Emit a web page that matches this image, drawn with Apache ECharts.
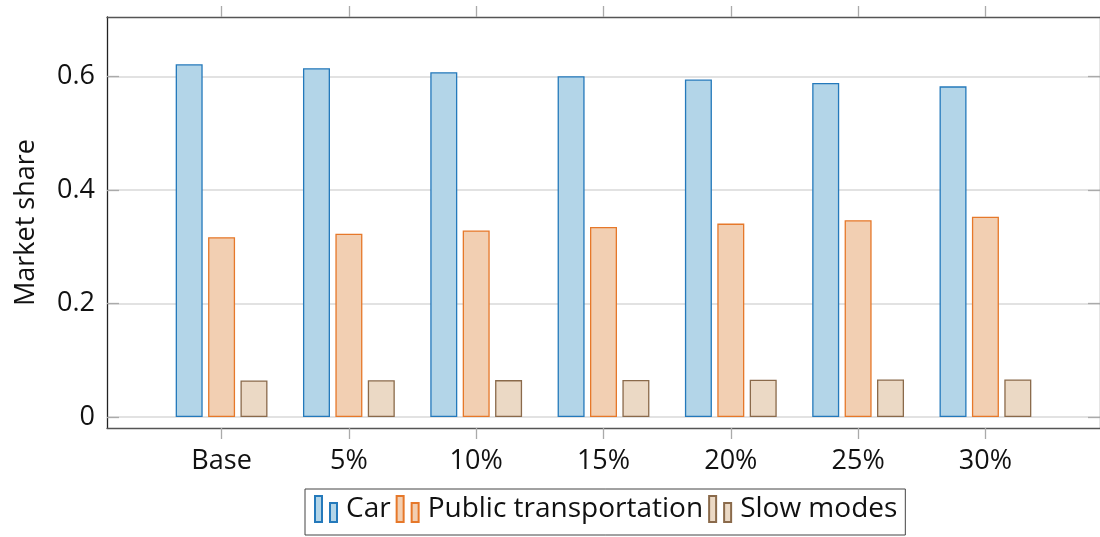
<!DOCTYPE html>
<html>
<head>
<meta charset="utf-8">
<script src="https://cdn.jsdelivr.net/npm/echarts@6/dist/echarts.min.js"></script>
<style>
  html, body { margin: 0; padding: 0; background: #fff; }
  #main { width: 1100px; height: 537px; }
</style>
</head>
<body>
<div id="main"></div>
<script>
var categories = ['Base', '5%', '10%', '15%', '20%', '25%', '30%'];
var carShare = [0.622, 0.615, 0.608, 0.601, 0.595, 0.589, 0.583];
var ptShare = [0.317, 0.323, 0.329, 0.335, 0.341, 0.347, 0.353];
var slowShare = [0.0645, 0.0648, 0.0651, 0.0654, 0.0657, 0.0660, 0.0663];
var yTicks = [0, 0.2, 0.4, 0.6];
var xTicks = [0, 1, 2, 3, 4, 5, 6];

var chart = echarts.init(document.getElementById('main'), null, { renderer: 'canvas' });

var font = 'Open Sans';

function pairs(arr) {
  return arr.map(function (v, i) { return [i, v]; });
}

var legendIcon = 'path://M0,0H7V26H0Z M15,7H22V26H15Z';

var option = {
  animation: false,
  textStyle: { fontFamily: font },
  grid: {
    left: 107,
    right: -1,
    top: 17,
    bottom: 109,
    containLabel: false
  },
  legend: {
    left: 305,
    top: 489,
    orient: 'horizontal',
    icon: legendIcon,
    itemWidth: 22,
    itemHeight: 26,
    itemGap: 5,
    padding: [6, 8, 12, 9],
    borderColor: '#444',
    borderWidth: 1,
    textStyle: { fontSize: 28, color: '#111', fontFamily: font, padding: [6, 0, 0, 4] },
    data: ['Car', 'Public transportation', 'Slow modes']
  },
  xAxis: [
    {
      type: 'value',
      position: 'bottom',
      min: -0.9,
      max: 6.9,
      axisLine: { show: true, onZero: false, lineStyle: { color: '#555', width: 1.3 } },
      axisTick: {
        show: true, inside: false, length: 11,
        customValues: xTicks,
        lineStyle: { color: '#aaa', width: 1.3 }
      },
      axisLabel: {
        customValues: xTicks,
        margin: 20,
        fontSize: 27,
        color: '#111',
        fontFamily: font,
        formatter: function (v) { return categories[Math.round(v)]; }
      },
      splitLine: { show: false }
    },
    {
      type: 'value',
      position: 'top',
      min: -0.9,
      max: 6.9,
      axisLine: { show: true, onZero: false, lineStyle: { color: '#555', width: 1.3 } },
      axisTick: {
        show: true, inside: false, length: 11,
        customValues: xTicks,
        lineStyle: { color: '#aaa', width: 1.3 }
      },
      axisLabel: { show: false },
      splitLine: { show: false }
    }
  ],
  yAxis: [
    {
      type: 'value',
      position: 'left',
      min: -0.0194,
      max: 0.7053,
      name: 'Market share',
      nameLocation: 'middle',
      nameGap: 67,
      nameTextStyle: { fontSize: 27, color: '#111', fontFamily: font },
      axisLine: { show: true, onZero: false, lineStyle: { color: '#222', width: 1.3 } },
      axisTick: {
        show: true, inside: true, length: 12,
        customValues: yTicks,
        lineStyle: { color: '#aaa', width: 1.3 }
      },
      axisLabel: {
        customValues: yTicks,
        margin: 12,
        fontSize: 27,
        color: '#111',
        fontFamily: font,
        formatter: function (v) { return v === 0 ? '0' : v.toFixed(1); }
      },
      splitLine: { show: true, lineStyle: { color: '#d9d9d9', width: 1.5 } }
    },
    {
      type: 'value',
      position: 'right',
      min: -0.0194,
      max: 0.7053,
      axisLine: { show: true, onZero: false, lineStyle: { color: '#555', width: 1.3 } },
      axisTick: {
        show: true, inside: true, length: 12,
        customValues: yTicks,
        lineStyle: { color: '#aaa', width: 1.3 }
      },
      axisLabel: { show: false },
      splitLine: { show: false }
    }
  ],
  series: [
    {
      name: 'Car',
      type: 'bar',
      xAxisIndex: 0,
      yAxisIndex: 0,
      barWidth: 27,
      barGap: '20%',
      itemStyle: { color: '#b3d5e8', borderColor: '#2479bb', borderWidth: 1.3 },
      data: pairs(carShare)
    },
    {
      name: 'Public transportation',
      type: 'bar',
      xAxisIndex: 0,
      yAxisIndex: 0,
      barWidth: 27,
      barGap: '20%',
      itemStyle: { color: '#f2cfb2', borderColor: '#e6782a', borderWidth: 1.3 },
      data: pairs(ptShare)
    },
    {
      name: 'Slow modes',
      type: 'bar',
      xAxisIndex: 0,
      yAxisIndex: 0,
      barWidth: 27,
      barGap: '20%',
      itemStyle: { color: '#ebd9c5', borderColor: '#8a6a4b', borderWidth: 1.3 },
      data: pairs(slowShare)
    }
  ]
};

chart.setOption(option);
</script>
</body>
</html>
